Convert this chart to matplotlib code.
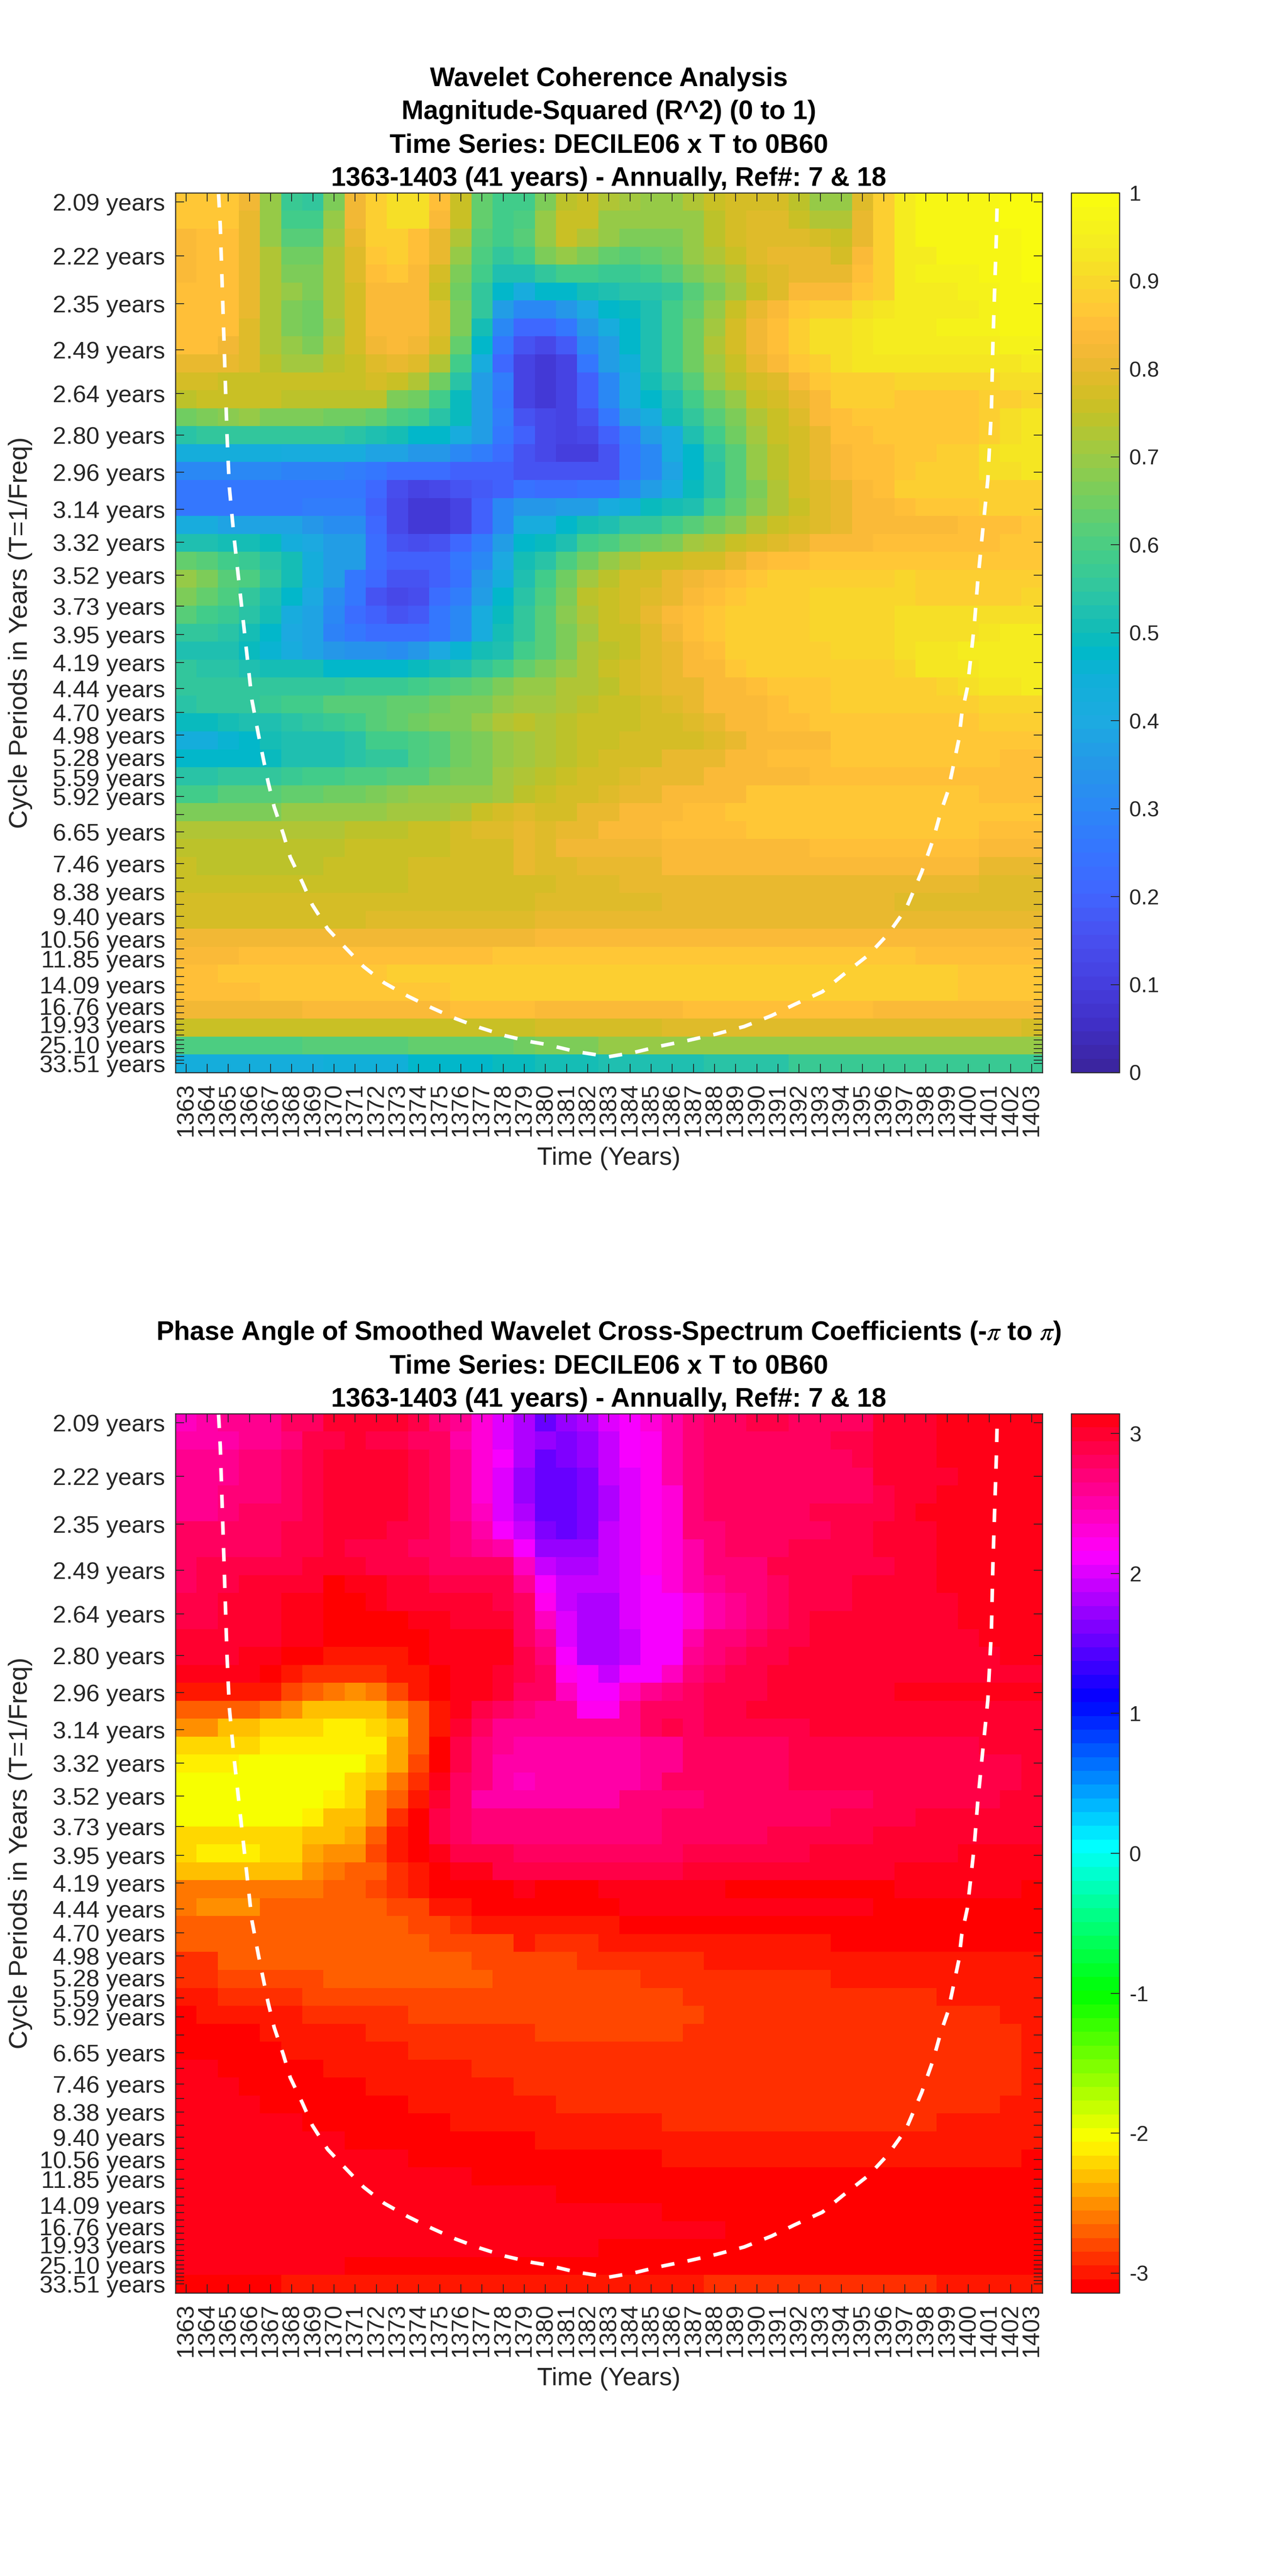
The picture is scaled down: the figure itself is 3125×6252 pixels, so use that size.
import colorsys
import numpy as np
import matplotlib
matplotlib.use('Agg')
import matplotlib.pyplot as plt
from matplotlib.colors import LinearSegmentedColormap, ListedColormap

plt.rcParams['font.family'] = ['Liberation Sans', 'DejaVu Sans']
plt.rcParams['axes.unicode_minus'] = False
plt.rcParams['mathtext.fontset'] = 'stix'

years = list(range(1363, 1404))

periods = [2.09, 2.22, 2.35, 2.49, 2.64, 2.80, 2.96, 3.14, 3.32, 3.52, 3.73, 3.95, 4.19,
           4.44, 4.70, 4.98, 5.28, 5.59, 5.92, 6.27, 6.65, 7.04, 7.46, 7.91, 8.38, 8.88,
           9.40, 9.96, 10.56, 11.18, 11.85, 12.55, 13.30, 14.09, 14.93, 15.82, 16.76,
           17.76, 18.81, 19.93, 21.12, 22.37, 23.70, 25.10, 26.60, 28.18, 29.85, 31.63, 33.51]
labelled_periods = [2.09, 2.22, 2.35, 2.49, 2.64, 2.80, 2.96, 3.14, 3.32, 3.52, 3.73, 3.95,
                    4.19, 4.44, 4.70, 4.98, 5.28, 5.59, 5.92, 6.65, 7.46, 8.38, 9.40, 10.56,
                    11.85, 14.09, 16.76, 19.93, 25.10, 33.51]

# coherence x 100, one row per period (top to bottom), one value per year
coherence = [
    [87,87,87,82,69,57,55,67,82,89,92,91,85,76,64,58,58,67,74,75,73,71,69,70,72,76,77,77,77,74,69,69,79,89,94,97,97,97,98,99,99],
    [87,87,87,80,69,59,59,69,82,88,92,91,84,76,64,59,60,70,76,75,70,69,69,69,70,74,78,79,79,76,73,73,80,89,94,97,97,97,98,99,99],
    [84,85,85,80,69,62,62,71,81,88,89,85,81,73,62,59,61,70,76,73,69,67,67,67,70,74,78,79,79,79,78,76,81,89,94,97,97,97,98,98,99],
    [84,85,85,80,72,65,65,73,79,86,88,85,80,70,60,56,59,67,69,67,63,62,64,65,69,73,76,79,80,80,80,78,84,89,94,95,97,97,97,98,99],
    [84,85,85,80,73,67,67,73,79,85,86,84,77,67,59,52,53,55,58,58,57,57,59,62,67,69,73,78,79,81,81,81,85,89,94,96,96,96,97,98,99],
    [85,85,85,80,73,69,67,73,78,84,84,83,76,65,55,47,42,48,48,50,52,54,54,55,61,67,71,76,79,83,83,83,86,88,94,95,95,96,96,97,97],
    [85,85,85,80,73,67,65,72,78,83,84,83,79,67,55,36,31,31,35,40,48,49,53,59,63,69,76,80,84,86,88,89,91,93,94,95,95,95,96,97,97],
    [85,85,85,79,72,67,65,71,77,83,84,83,79,67,51,31,21,21,26,35,42,48,53,59,65,71,77,82,85,89,91,92,93,94,94,95,96,96,96,97,97],
    [85,85,82,79,73,69,67,73,77,82,83,82,77,63,48,26,16,13,18,31,36,47,52,59,65,73,77,82,85,89,91,91,93,94,94,94,95,95,95,96,96],
    [81,81,81,79,74,71,71,74,76,79,80,79,73,59,42,21,12,9,12,26,36,44,52,59,65,71,76,80,84,86,89,91,93,93,93,93,93,93,93,93,94],
    [77,77,76,76,76,75,75,75,76,77,76,72,65,54,36,27,12,9,11,19,30,42,50,55,62,69,74,77,79,83,87,89,89,89,90,90,90,90,90,91,91],
    [74,75,75,75,75,74,74,74,74,74,67,65,59,49,36,26,12,9,11,19,30,42,47,53,59,65,70,76,78,80,83,88,88,88,86,86,86,87,88,89,90],
    [65,67,68,69,67,67,67,65,65,63,60,58,54,49,36,27,17,13,12,16,26,36,42,50,55,62,67,73,76,79,83,85,86,86,86,86,86,87,89,91,93],
    [54,55,55,55,55,55,55,55,54,53,50,48,48,42,36,26,19,13,12,13,20,27,36,42,52,59,65,71,75,78,81,85,85,86,86,86,86,87,89,92,93],
    [43,43,43,43,43,41,41,41,41,38,38,35,35,30,27,22,16,13,10,10,16,26,31,42,48,55,62,70,74,78,81,84,85,85,86,86,88,89,91,93,93],
    [31,31,31,31,31,29,29,29,27,25,22,22,22,19,19,19,16,16,16,16,17,26,31,38,48,54,62,69,74,78,81,83,85,85,86,88,88,89,91,92,93],
    [26,26,26,25,25,25,26,26,26,21,15,12,13,16,18,20,24,22,22,24,24,30,36,42,49,54,62,67,73,77,79,81,83,85,88,88,88,88,88,89,89],
    [26,26,26,26,26,26,27,27,27,19,13,9,9,11,19,30,35,35,36,36,42,45,49,50,53,59,63,68,73,76,79,81,83,84,85,86,86,86,88,88,89],
    [42,42,38,38,38,38,35,32,32,21,14,9,9,12,19,31,42,41,48,50,52,55,55,59,62,65,68,73,76,78,79,81,83,83,84,84,84,85,85,85,86],
    [53,53,50,50,49,43,40,36,36,23,17,15,17,21,27,36,47,49,53,58,60,63,65,67,71,73,76,77,79,81,83,83,83,85,85,85,85,85,85,86,86],
    [64,62,59,57,54,50,43,36,36,22,19,19,20,25,31,40,50,54,60,65,69,73,75,76,77,78,81,84,85,85,86,86,86,86,87,87,87,87,87,87,87],
    [69,66,62,60,55,50,43,36,26,21,16,16,20,24,35,43,53,59,65,71,74,77,78,80,82,84,85,86,88,88,89,89,89,89,90,88,88,88,88,88,89],
    [66,63,60,56,53,47,40,32,26,16,13,15,22,27,36,48,54,60,67,74,76,77,79,81,84,85,87,88,88,88,90,90,90,90,90,89,89,89,89,89,90],
    [61,59,57,54,50,42,38,31,22,19,16,18,25,31,41,49,55,62,68,73,75,77,80,83,85,87,88,89,89,89,90,90,90,90,91,91,91,91,91,91,91],
    [55,55,54,51,47,40,38,29,25,22,22,22,26,31,42,50,55,61,67,71,75,76,79,82,85,86,88,88,89,89,90,90,90,90,91,91,92,92,93,94,94],
    [53,53,52,49,46,41,38,35,34,34,32,35,40,46,50,53,59,61,67,73,74,76,79,81,84,85,88,88,89,89,89,90,90,90,92,93,93,94,94,94,94],
    [55,54,54,53,51,50,50,48,48,47,47,49,51,53,55,59,64,66,69,73,76,77,79,81,83,84,86,88,89,89,89,89,89,89,90,93,93,93,94,94,94],
    [56,56,56,56,56,56,56,56,57,57,57,59,60,62,64,66,69,69,73,73,74,78,79,80,81,83,84,85,87,87,87,88,88,88,89,89,90,92,93,93,94],
    [54,56,56,56,57,59,59,61,61,62,63,63,65,67,67,69,71,71,73,74,76,76,77,79,81,83,84,84,85,86,86,88,88,88,89,89,89,89,90,90,90],
    [49,49,51,52,53,54,55,57,59,61,63,65,66,67,69,72,74,73,74,76,76,76,78,78,79,81,83,84,85,85,86,86,86,86,86,86,86,87,89,89,89],
    [43,43,46,48,50,52,53,53,54,58,58,60,62,65,67,69,71,73,74,75,76,77,78,78,78,79,80,83,83,83,84,86,86,86,86,86,86,86,86,86,86],
    [48,48,48,48,49,52,53,53,54,56,56,60,62,65,67,69,71,73,74,76,77,77,78,80,80,81,83,83,85,85,85,86,86,86,86,86,86,86,86,85,85],
    [54,54,55,55,56,57,59,59,60,60,62,62,65,67,67,71,72,74,76,77,77,79,80,80,81,83,83,84,84,84]+[85]*11,
    [59,59,62,62,62,63,63,65,65,67,68,69,69,69,69,71,74,76,78,78,79,81,81,83,84,84,84]+[86]*11+[85]*3,
    [67,67,67,67,67,69,69,69,69,69,71,71,71,73,76,77,79,77,78,81,81,83,83,84,85,85]+[86]*15,
    [73]*8+[74,74,74,76,76,77,79,79,80,79,81,81,83,83,83,85,85,85,85]+[86]*11+[85]*3,
    [74]*8+[75,75,75,76,76,77,78,78,80,79]+[82]*5+[84]*7+[85]*8+[84,83,83],
    [75]+[74]*6+[76]*4+[77]*3+[78,78,80,79,79]+[81]*4+[83]*15+[80]*3,
    [76]*11+[77]*4+[78,78,78]+[79]*3+[81]*17+[79]*3,
    [77]*13+[78]*4+[79]*6+[81]*11+[79]*7,
    [78]*9+[79]*8+[81]*24,
    [82]*17+[83]*6+[84]*18,
    [84]*3+[85]*12+[86]*2+[87]*18+[85]*6,
    [85]*2+[87]*8+[88]*7+[88]*20+[86]*4,
    [85]*4+[87]*9+[88]*4+[88]*20+[86]*4,
    [82]*6+[84]*7+[85]*4+[84]*7+[85]*9+[84]*8,
    [75]*3+[76]*14+[78]*6+[79]*17+[78],
    [60]*6+[62]*5+[64]*5+[65]+[67]*3+[69]*7+[70]*14,
    [43]*7+[45]*4+[47]*4+[49]*2+[50]*3+[52]*5+[54]*4+[57]*12,
]

# phase angle in degrees, same layout
phase = [
    [140,146,150,150,150,158,163,170,170,170,170,166,157,150,133,118,105,87,96,103,113,121,133,146,153,160,160,166,166,162,162,162,162,172,172,172,175,175,175,175,175],
    [146,146,146,150,150,157,166,168,172,168,168,163,158,146,133,116,103,96,94,99,111,122,128,145,152,158,162,162,162,162,158,164,164,170,170,170,175,175,175,175,175],
    [150,150,150,153,153,158,164,172,172,172,170,166,158,150,133,119,103,87,92,99,110,120,128,145,152,158,162,162,162,162,162,162,164,170,170,170,175,175,175,175,175],
    [150,150,150,157,157,160,166,172,172,172,171,166,158,150,133,118,101,87,87,93,107,117,125,143,152,158,160,160,160,160,160,160,162,170,170,170,170,175,175,175,175],
    [150,151,153,153,153,158,164,172,172,172,170,166,158,150,133,115,98,87,87,93,103,115,125,132,152,158,160,160,160,160,160,160,163,164,170,170,175,175,175,175,175],
    [150,150,153,158,158,158,166,172,172,172,170,166,158,150,138,115,103,87,87,93,103,115,125,133,152,158,162,162,162,162,166,166,166,166,170,175,175,175,175,175,175],
    [158,158,160,160,160,166,168,172,172,172,168,166,158,153,143,121,110,93,87,93,107,115,125,133,152,157,158,162,162,162,162,166,166,170,170,170,175,175,175,175,175],
    [160,160,160,160,160,166,168,173,168,166,166,162,158,155,148,146,120,100,96,100,108,115,125,133,146,153,160,160,160,164,164,164,166,170,170,170,175,175,175,175,175],
    [160,164,164,164,166,168,172,172,172,168,168,166,162,160,160,158,138,111,103,103,108,115,125,133,146,153,157,157,164,166,166,166,166,166,170,170,175,175,175,175,175],
    [160,164,164,170,170,172,174,-179,177,177,172,172,168,168,168,164,150,121,110,110,110,115,120,132,146,150,153,153,162,166,166,166,172,172,172,172,175,175,175,175,175],
    [166,166,172,172,172,176,176,-179,-179,176,174,172,172,172,172,168,160,125,111,105,105,113,120,122,133,143,150,155,162,168,168,168,172,172,172,172,172,175,175,175,175],
    [168,168,170,171,171,176,176,-179,-179,-179,-179,177,177,173,173,173,162,136,118,105,105,113,120,122,133,146,150,153,162,166,172,172,172,172,172,172,172,175,175,175,175],
    [172,172,172,174,174,176,176,-179,-179,-179,-179,-179,178,175,175,175,162,150,118,103,103,112,121,122,143,153,157,162,168,168,172,172,172,172,172,172,172,172,177,177,177],
    [172,172,174,176,176,-179,-179,-174,-174,-174,-174,-178,177,177,177,175,166,155,122,103,103,110,121,121,150,153,158,164,168,174,174,174,174,174,174,174,174,174,174,177,177],
    [178,178,178,178,-179,-172,-168,-168,-165,-165,-169,-174,-179,177,177,172,164,160,128,122,112,120,120,138,153,158,164,168,172,172,172,172,172]+[171]*8,
    [-174,-174,-174,-174,-172,-163,-153,-151,-146,-151,-159,-169,-179,177,177,172,162,160,138,121,121,140,150,153,160,164,168,168]+[173]*6+[175]*7,
    [-157,-157,-157,-156,-148,-143,-135,-135,-131,-135,-146,-157,-174,175,166,158,153,150,150,126,126,150,158,158,158,164,168]+[172]*10+[170,171,171,171],
    [-143,-143,-135,-135,-129,-124,-124,-119,-119,-129,-135,-156,-172,170,160,150,150]+[150]*5+[158,166,160]+[166]*5+[170]*11,
    [-129,-124,-124,-124,-120,-120,-120,-120,-120,-123,-139,-157,-179,168,155,148,145]+[146]*5+[150,150,160]+[162]*4+[168]*9+[172]*3,
    [-120,-120,-120,-118,-113,-113,-113,-118,-118,-129,-139,-163,-179,164,155,146,145]+[146]*5+[148,150,162]+[160]*4+[166]*11+[172],
    [-118,-118,-118,-113,-113,-113,-113,-118,-124,-133,-147,-167,177,160,153,143,140]+[145]*5+[150,158,158]+[160]*4+[166]*11+[172],
    [-118]*7+[-123,-129,-141,-157,-174,172,158,146,146,145]+[146]*4+[155]*4+[160]*3+[162]*5+[166]+[168]*5+[172]*2,
    [-118]*6+[-122,-131,-131,-146,-165,-179,168,160,155,152,152]+[152]*6+[160]*2+[162]*6+[166]*4+[170]*6,
    [-124]*6+[-131,-135,-139,-153,-172,-179,168,160,155,155,155]+[155]*6+[160]*5+[166]*5+[170]*8,
    [-129,-123,-123,-123,-129,-129,-137,-141,-146,-159,-172,-179,176,164,164,164,162]+[162]*7+[166]*6+[170]*7+[175]*4,
    [-135]*6+[-143,-147,-156,-156,-165,-174,-179,176,176,168,168]+[168]*7+[172]*10+[177]*5+[175]*2,
    [-147]*5+[-151,-151,-156,-156,-161,-165,-172,-175,-175,-179,-179,178]+[-179]*3+[178]*6+[-179]*8+[179]*6+[-179],
    [-151,-146,-146,-146,-152,-152,-152,-152,-156,-156,-163,-163,-169,-169,-175,-175,-179]+[-179]*4+[177]*12+[-179]*8,
    [-152]*8+[-156]*3+[-163,-163,-165,-169,-169,-169]+[-173]*4+[-179]*20,
    [-157]*4+[-153]*3+[-156]*5+[-163]*4+[-169]+[-168]*3+[-174]*11+[-179]*10,
    [-165]*2+[-157]*12+[-161]*3+[-163]*2+[-168]*6+[-174]*16,
    [-168]*2+[-161]*5+[-156]*8+[-161]*2+[-163]*5+[-168]*9+[-174]*10,
    [-173]*2+[-168]*4+[-162]*11+[-163]*7+[-168]*12+[-173]*5,
    [-179]+[-173]*5+[-168]*5+[-163]*6+[-163]*8+[-168]*14+[-173]*2,
    [-178]*4+[-173]*5+[-168]*8+[-163]*7+[-168]*16+[-173],
    [-178]*5+[-173]*6+[-168]*6+[-168]*23+[-173],
    [176]*2+[-178]*5+[-173]*7+[-168]*3+[-168]*23+[-173],
    [176]*3+[-178]*6+[-173]*7+[-168]+[-168]*23+[-173],
    [176]*4+[-178]*7+[-173]*6+[-173]+[-168]*21+[-173]*2,
    [176]*6+[-178]*7+[-173]*4+[-173]*6+[-168]*13+[-173]*5,
    [176]*8+[-178]*9+[-173]*24,
    [176]*11+[-178]*6+[-178]*6+[-173]*17+[-178],
    [176]*14+[-178]*3+[-178]*24,
    [176]*17+[176]+[-178]*23,
    [176]*17+[176]*6+[-178]*18,
    [176]*17+[176]*9+[-178]*15,
    [176]*17+[176]*3+[-178]*21,
    [176]*8+[-178]*9+[-178]*24,
    [-178]*5+[-173]*12+[-173]*8+[-168]*11+[-173]*5,
]

# cone of influence: year position and image row position
coi_year = [1364.54, 1364.62, 1364.70, 1364.78, 1364.86, 1364.94, 1365.05, 1365.26, 1365.46,
            1366.12, 1366.43, 1366.64, 1366.88, 1367.17, 1367.60, 1367.93, 1368.50, 1368.98,
            1369.70, 1370.50, 1371.40, 1372.37, 1373.50, 1374.63, 1375.76, 1376.90, 1378.10,
            1379.37, 1380.02, 1381.47, 1383.00, 1384.20, 1385.43, 1386.80, 1388.10, 1389.40,
            1390.70, 1391.80, 1393.10, 1394.07, 1395.30, 1396.20, 1397.05, 1397.80, 1398.35,
            1398.70, 1399.05, 1399.30, 1399.56, 1399.70, 1399.96, 1400.10, 1400.29, 1400.45,
            1400.68, 1400.93, 1401.10, 1401.17, 1401.25, 1401.33, 1401.37]
coi_row = [0.56, 2.31, 5.23, 8.15, 11.07, 14.0, 16.9, 19.54, 21.7, 28.76, 30.7, 31.92, 33.3,
           34.7, 36.2, 37.5, 38.9, 40.17, 41.5, 42.5, 43.6, 44.5, 45.25, 45.9, 46.5, 47.0,
           47.45, 47.8, 47.93, 48.34, 48.62, 48.38, 48.03, 47.7, 47.35, 46.94, 46.33, 45.7,
           45.0, 44.07, 42.94, 41.8, 40.4, 38.33, 36.5, 35.0, 33.8, 32.4, 30.94, 29.5, 28.07,
           26.63, 24.58, 22.17, 19.4, 16.47, 12.53, 8.88, 5.96, 3.04, 1.14]

parula_stops = [0.0, 0.05, 0.1, 0.15, 0.2, 0.25, 0.3, 0.35, 0.4, 0.45, 0.48, 0.5, 0.525, 0.55,
                0.585, 0.62, 0.65, 0.69, 0.72, 0.75, 0.77, 0.8, 0.82, 0.85, 0.875, 0.9, 0.93,
                0.96, 1.0]
parula_colors = ['#3b25a0', '#4030c8', '#4640e0', '#4850f0', '#4066ff', '#3576ff', '#2b88f5',
                 '#2598e8', '#1cabe0', '#10b0d8', '#00b9c8', '#10bcb8', '#20c0b0', '#30c6a0',
                 '#40cc8c', '#58ce78', '#70ce62', '#90cb4c', '#a8c83c', '#c0c228', '#d0bf24',
                 '#e4ba2c', '#f0b834', '#ffbb3a', '#ffc936', '#fad42e', '#f5e424', '#f5f01e',
                 '#f9fb0f']
parula = LinearSegmentedColormap.from_list('parula_like', list(zip(parula_stops, parula_colors)), N=64)
hsv64 = ListedColormap([colorsys.hsv_to_rgb(i / 64, 1, 1) for i in range(64)])

WIDTH, HEIGHT = 3125, 6252
TEXT = '#262626'


def box(left, top, right, bottom):
    return [left / WIDTH, 1 - bottom / HEIGHT, (right - left) / WIDTH, (bottom - top) / HEIGHT]


def period_rows(values):
    freq = 1 / np.array(values)
    return 1 + 48 * (freq[0] - freq) / (freq[0] - freq[-1])


def panel(fig, top, bottom, values, cmap, vmin, vmax, cb_ticks, cb_labels, title_lines):
    ax = fig.add_axes(box(426, top, 2530.5, bottom))
    im = ax.imshow(values, cmap=cmap, vmin=vmin, vmax=vmax, aspect='auto', interpolation='nearest',
                   extent=(years[0] - 0.5, years[-1] + 0.5, len(periods) + 0.5, 0.5))
    ax.plot(coi_year, coi_row, color='white', lw=2.1, dashes=(3.7, 3.7))

    ax.set_xticks(years)
    ax.set_xticklabels([str(y) for y in years], rotation=90)
    rows = period_rows(periods)
    ax.set_yticks(rows)
    ax.set_yticklabels(['%.2f years' % p if p in labelled_periods else '' for p in periods])
    ax.tick_params(axis='both', direction='in', length=5, width=0.5, top=True, right=True,
                   color=TEXT, labelcolor=TEXT, labelsize=14, pad=6)
    for spine in ax.spines.values():
        spine.set_linewidth(0.6)
        spine.set_color(TEXT)

    ax.set_xlabel('Time (Years)', fontsize=14.8, color=TEXT, labelpad=6)
    ax.set_ylabel('Cycle Periods in Years (T=1/Freq)', fontsize=15.2, color=TEXT)
    ax.yaxis.set_label_coords((79 - 426) / 2104.5, 0.5)

    cax = fig.add_axes(box(2601, top, 2717.5, bottom))
    cb = fig.colorbar(im, cax=cax, ticks=cb_ticks)
    cb.ax.set_yticklabels(cb_labels)
    cb.ax.tick_params(direction='in', length=5, width=0.5, color=TEXT, labelcolor=TEXT,
                      labelsize=12.5, pad=6)
    cb.outline.set_linewidth(0.6)
    cb.outline.set_edgecolor(TEXT)

    for i, line in enumerate(title_lines):
        baseline = top - 17 - 81 * (len(title_lines) - 1 - i)
        fig.text(1478 / WIDTH, 1 - baseline / HEIGHT, line, ha='center', va='baseline',
                 fontsize=15.4, fontweight='bold', color='black')


fig = plt.figure(figsize=(WIDTH / 300, HEIGHT / 300), dpi=300)

for name, table in (('coherence', coherence), ('phase', phase)):
    for i, row in enumerate(table):
        if len(row) != len(years):
            raise ValueError('%s row %d has %d values' % (name, i, len(row)))

panel(fig, 468.5, 2603, np.array(coherence) / 100, parula, 0, 1,
      [i / 10 for i in range(11)], ['0', '0.1', '0.2', '0.3', '0.4', '0.5', '0.6', '0.7', '0.8', '0.9', '1'],
      ['Wavelet Coherence Analysis', 'Magnitude-Squared (R^2) (0 to 1)',
       'Time Series: DECILE06 x T to 0B60', '1363-1403 (41 years) - Annually, Ref#: 7 & 18'])

panel(fig, 3431, 5565, np.deg2rad(np.array(phase)), hsv64, -np.pi, np.pi,
      [-3, -2, -1, 0, 1, 2, 3], ['-3', '-2', '-1', '0', '1', '2', '3'],
      [r'Phase Angle of Smoothed Wavelet Cross-Spectrum Coefficients (-$\pi$ to $\pi$)',
       'Time Series: DECILE06 x T to 0B60', '1363-1403 (41 years) - Annually, Ref#: 7 & 18'])

plt.savefig('out.png', dpi=300)
